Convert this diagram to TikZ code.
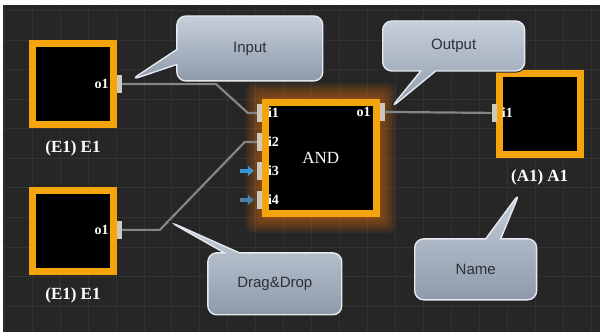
\documentclass[tikz,border=0pt]{standalone}
\usepackage{fontspec}
\setmainfont{Liberation Serif}
\newfontfamily\bubblefont{Liberation Sans}
\usetikzlibrary{
  positioning,
  shapes.callouts,
  arrows.meta,
  fit,
  backgrounds,
}
\definecolor{canvas}{HTML}{262626}
\definecolor{gridCol}{HTML}{323232}
\definecolor{blockEdge}{HTML}{F5A40C}
\definecolor{glowCol}{HTML}{E8720C}
\definecolor{portFill}{HTML}{CFC8C0}
\definecolor{wireCol}{HTML}{858585}
\definecolor{bubbleTop}{HTML}{C6CFDA}
\definecolor{bubbleBot}{HTML}{8E9AAB}
\definecolor{bubbleEdge}{HTML}{E4E9EF}
\definecolor{bubbleText}{HTML}{2B303A}
\definecolor{pinBlue}{HTML}{3B95D6}
\definecolor{pinDull}{HTML}{4F7FA5}
\tikzset{
  block/.style={
    rectangle, draw=blockEdge, fill=black, line width=7pt,
    minimum size=81pt, inner sep=0pt,
  },
  andblock/.style={
    block, minimum size=111pt, text=white,
    font=\fontsize{17}{20}\selectfont,
  },
  port/.style={
    rectangle, fill=portFill, minimum width=5pt, minimum height=18pt,
    inner sep=0pt, outer sep=0pt,
  },
  portlabel/.style={font=\fontsize{14}{15}\selectfont\bfseries, text=white, inner sep=0pt},
  blocklabel/.style={font=\fontsize{17}{20}\selectfont\bfseries, text=white, inner sep=1pt},
  wire/.style={draw=wireCol, line width=2.2pt},
  bubble/.style={
    rectangle callout, rounded corners=9pt, top color=bubbleTop, bottom color=bubbleBot,
    draw=bubbleEdge, line width=1.4pt, preaction={draw=black!85, line width=3.4pt},
    callout pointer width=15pt, inner sep=0pt, text=bubbleText,
    font=\bubblefont\fontsize{15}{18}\selectfont,
  },
  pin/.style={-{Triangle[length=6pt, width=10pt]}, line width=4pt},
  glow/.style={fill=glowCol, opacity=0.07, rounded corners=7pt, draw=none},
  gridline/.style={draw=gridCol, line width=0.8pt},
}

\begin{document}
\begin{tikzpicture}[x=1pt, y=-1pt]

  % Canvas
  \begin{scope}[on background layer]
    \fill[white] (0,0) rectangle (600,332);
    \fill[canvas] (3,5) rectangle (600,332);
    \foreach \gx in {4,32,...,600} \draw[gridline] (\gx,5) -- (\gx,332);
    \foreach \gy in {10.4,40,...,332} \draw[gridline] (3,\gy) -- (600,\gy);
  \end{scope}

  % Blocks
  \node[block] (e1t) at (73,84.5) {};
  \node[block] (e1b) at (73,231.5) {};
  \node[andblock] (and) at (321,158) {AND};
  \node[block] (a1) at (540,114) {};

  \begin{scope}[on background layer]
    \foreach \g in {1,...,9}
      \node[glow, fit=(and), inner sep=\g*1.8pt] (glow\g) {};
  \end{scope}

  % Ports
  \node[port] (e1to) at (119.5,84) {};
  \node[port] (e1bo) at (119.5,230) {};
  \node[port] (andi1) at (259.5,113) {};
  \node[port] (andi2) at (259.5,142) {};
  \node[port] (andi3) at (259.5,171) {};
  \node[port] (andi4) at (259.5,200) {};
  \node[port] (ando) at (382.5,112) {};
  \node[port] (a1i) at (494.5,113) {};

  \node[portlabel, anchor=east] (e1tl) at ([xshift=-8pt]e1to.west) {o1};
  \node[portlabel, anchor=east] (e1bl) at ([xshift=-8pt]e1bo.west) {o1};
  \node[portlabel, anchor=west] (andl1) at ([xshift=6pt]andi1.east) {i1};
  \node[portlabel, anchor=west] (andl2) at ([xshift=6pt]andi2.east) {i2};
  \node[portlabel, anchor=west] (andl3) at ([xshift=6pt]andi3.east) {i3};
  \node[portlabel, anchor=west] (andl4) at ([xshift=6pt]andi4.east) {i4};
  \node[portlabel, anchor=east] (andlo) at ([xshift=-9pt]ando.west) {o1};
  \node[portlabel, anchor=west] (a1l) at ([xshift=5pt]a1i.east) {i1};

  % Names
  \node[blocklabel, below=11pt of e1t] (e1tname) {(E1) E1};
  \node[blocklabel, below=11pt of e1b] (e1bname) {(E1) E1};
  \node[blocklabel, below=11pt of a1] (a1name) {(A1) A1};

  % Wires
  \draw[wire] (e1to.east) -- ++(94,0) -- ([xshift=-9pt]andi1.west) -- (andi1.west);
  \draw[wire] (e1bo.east) -- ++(38,0) -- ([xshift=-12pt]andi2.west) -- (andi2.west);
  \draw[wire] (ando.east) -- (a1i.west);

  \draw[pin, pinBlue] ([xshift=-17pt]andi3.west) -- ([xshift=-3pt]andi3.west);
  \draw[pin, pinDull] ([xshift=-17pt]andi4.west) -- ([xshift=-3pt]andi4.west);

  % Callouts
  \coordinate (inTip) at (131,80);
  \coordinate (outTip) at (391,108);
  \coordinate (dragTip) at (170,222);
  \coordinate (nameTip) at (520,193);

  \node[bubble, minimum width=146pt, minimum height=65pt, callout absolute pointer={(inTip)}] (inbub) at (250,48.5) {Input};
  \node[bubble, minimum width=142pt, minimum height=50pt, callout absolute pointer={(outTip)}] (outbub) at (454,46) {Output};
  \node[bubble, minimum width=134pt, minimum height=62pt, callout absolute pointer={(dragTip)}] (dragbub) at (275,284) {Drag\&Drop};
  \node[bubble, minimum width=122pt, minimum height=61pt, callout absolute pointer={(nameTip)}] (namebub) at (476,269.5) {Name};

\end{tikzpicture}
\end{document}
